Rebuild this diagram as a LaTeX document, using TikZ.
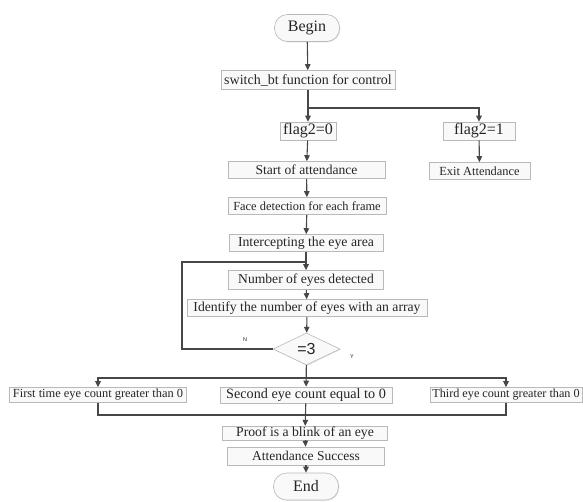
\documentclass[tikz,border=0pt]{standalone}
\usepackage{fontspec}
\setmainfont{Liberation Serif}
\setsansfont{Liberation Sans}
\usetikzlibrary{arrows.meta,shapes.geometric,shadows}
\newcommand{\fs}[1]{\fontsize{#1}{#1}\selectfont}
\begin{document}
\begin{tikzpicture}[x=1pt,y=-1pt,
  base/.style={draw=gray!55, fill=gray!5, line width=0.6pt, inner sep=0.5pt, text=black!85,
    drop shadow={shadow xshift=0.8pt, shadow yshift=-0.8pt, fill=gray!35, opacity=0.6}},
  box/.style={base, minimum height=17pt},
  term/.style={base, rounded corners=13pt, minimum width=65pt, minimum height=27pt, font=\fs{16}},
  dia/.style={base, diamond, inner sep=0pt, minimum width=67pt, minimum height=32pt, font=\sffamily\fs{16}},
  lab/.style={font=\sffamily\fs{5.5}, text=black!85},
  con/.style={draw=black!72, line width=1.1pt},
  arr/.style={con, -{Triangle[length=6pt,width=5.5pt]}}]
\useasboundingbox (0,0) rectangle (583,501);
\fill[white] (0,0) rectangle (583,501);

\node[term] (begin) at (307,28) {Begin};
\node[box, minimum width=174pt, minimum height=19pt, font=\fs{14}] (sw) at (308,80) {switch\_bt function for control};
\node[box, minimum width=56pt, minimum height=18pt, font=\fs{16}] (f0) at (308,131) {flag2=0};
\node[box, minimum width=72pt, minimum height=18pt, font=\fs{16}] (f1) at (479,131) {flag2=1};
\node[box, minimum width=157pt, font=\fs{13.6}] (start) at (306.5,170) {Start of attendance};
\node[box, minimum width=101pt, font=\fs{12.4}] (exit) at (479.5,171) {Exit Attendance};
\node[box, minimum width=158pt, font=\fs{12.4}] (face) at (307,206) {Face detection for each frame};
\node[box, minimum width=154pt, font=\fs{13.8}] (inter) at (306,243) {Intercepting the eye area};
\node[box, minimum width=155pt, minimum height=19pt, font=\fs{13.6}] (num) at (306,280) {Number of eyes detected};
\node[box, minimum width=240pt, font=\fs{13.7}] (ident) at (307,308) {Identify the number of eyes with an array};
\node[dia] (dec) at (306.5,349) {=3};
\node[box, minimum width=177pt, minimum height=15pt, font=\fs{12.4}] (first) at (98,395) {First time eye count greater than 0};
\node[box, minimum width=172pt, minimum height=16pt, font=\fs{14.2}] (second) at (306,395) {Second eye count equal to 0};
\node[box, minimum width=152pt, minimum height=15pt, font=\fs{12.2}] (third) at (506,395) {Third eye count greater than 0};
\node[box, minimum width=165pt, minimum height=13pt, font=\fs{13.7}] (proof) at (305,433) {Proof is a blink of an eye};
\node[box, minimum width=157pt, minimum height=18pt, font=\fs{13.5}] (succ) at (306,456) {Attendance Success};
\node[term] (end) at (306,486.5) {End};

\node[lab] (nl) at (245,340) {N};
\node[lab] (yl) at (352,357) {Y};

\coordinate (split) at (308,108);
\coordinate (loopc) at (182,262);
\coordinate (loopj) at (306,262);
\coordinate (ym) at (306.5,378);
\coordinate (mm) at (306,415);

\draw[arr] (begin) -- (sw);
\draw[arr] (sw) -- (f0);
\draw[arr] (split) -| (f1);
\draw[arr] (f0) -- (start);
\draw[arr] (f1) -- (exit);
\draw[arr] (start) -- (face);
\draw[arr] (face) -- (inter);
\draw[arr] (inter) -- (num);
\draw[arr] (num) -- (ident);
\draw[arr] (ident) -- (dec);
\draw[con] (dec.west) -| (loopc) -- (loopj);
\draw[arr] (dec) -- (second);
\draw[arr] (ym) -| (first);
\draw[arr] (ym) -| (third);
\draw[con] (first) |- (mm);
\draw[con] (third) |- (mm);
\draw[arr] (second) -- (proof);
\draw[arr] (proof) -- (succ);
\draw[arr] (succ) -- (end);
\end{tikzpicture}
\end{document}
